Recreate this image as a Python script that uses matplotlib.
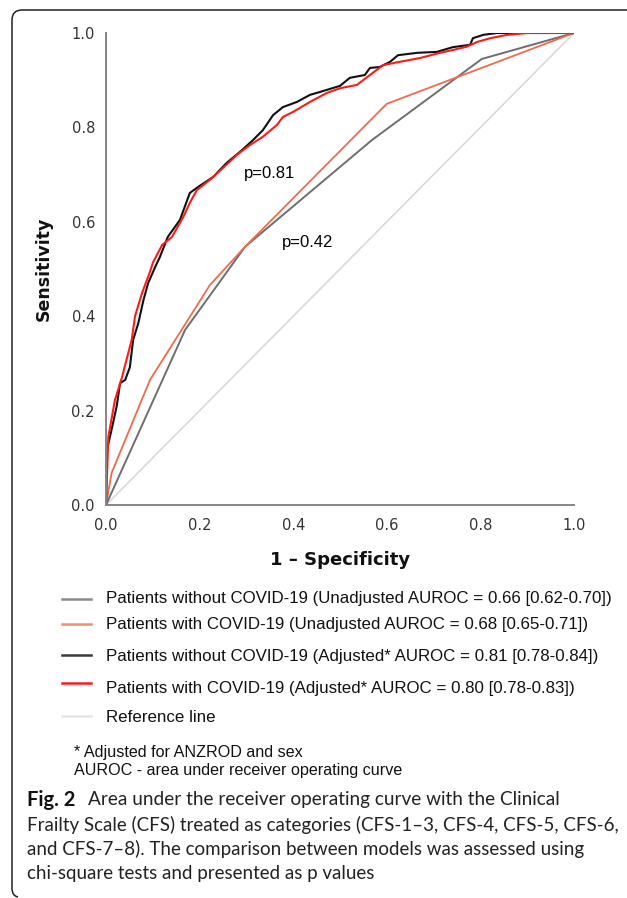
import matplotlib
matplotlib.use("Agg")
import matplotlib.pyplot as plt
from matplotlib.lines import Line2D
from matplotlib.path import Path
from matplotlib.patches import PathPatch

# ROC curves (1 - specificity, sensitivity)
unadj_without_x = [0, 0.169, 0.297, 0.568, 0.803, 1.0]
unadj_without_y = [0, 0.371, 0.547, 0.773, 0.945, 1.0]

unadj_with_x = [0, 0.012, 0.094, 0.222, 0.297, 0.600, 1.0]
unadj_with_y = [0, 0.068, 0.265, 0.466, 0.547, 0.850, 1.0]

adj_without_x = [0, 0.002, 0.012, 0.023, 0.030, 0.041, 0.051, 0.058, 0.069, 0.080,
                 0.090, 0.105, 0.115, 0.132, 0.158, 0.179, 0.197, 0.229, 0.258, 0.286,
                 0.314, 0.335, 0.357, 0.378, 0.408, 0.436, 0.457, 0.5, 0.521, 0.553,
                 0.564, 0.585, 0.607, 0.624, 0.665, 0.707, 0.741, 0.778, 0.784, 0.806,
                 0.835, 1.0]
adj_without_y = [0, 0.117, 0.16, 0.21, 0.258, 0.265, 0.292, 0.35, 0.385, 0.434,
                 0.47, 0.504, 0.525, 0.568, 0.604, 0.661, 0.674, 0.695, 0.725, 0.748,
                 0.773, 0.794, 0.826, 0.843, 0.854, 0.869, 0.875, 0.888, 0.905, 0.911,
                 0.926, 0.928, 0.939, 0.953, 0.958, 0.96, 0.97, 0.975, 0.989, 0.996,
                 1.0, 1.0]

adj_with_x = [0, 0.005, 0.019, 0.034, 0.041, 0.055, 0.062, 0.077, 0.094, 0.10,
              0.12, 0.141, 0.165, 0.179, 0.194, 0.222, 0.25, 0.28, 0.308, 0.335,
              0.365, 0.378, 0.4, 0.436, 0.472, 0.5, 0.536, 0.564, 0.592, 0.628,
              0.671, 0.714, 0.741, 0.771, 0.793, 0.821, 0.857, 0.9, 1.0]
adj_with_y = [0, 0.144, 0.222, 0.27, 0.297, 0.35, 0.40, 0.449, 0.494, 0.513,
              0.551, 0.568, 0.61, 0.64, 0.667, 0.689, 0.714, 0.742, 0.763, 0.78,
              0.805, 0.822, 0.833, 0.854, 0.873, 0.883, 0.89, 0.911, 0.932, 0.939,
              0.947, 0.958, 0.964, 0.971, 0.981, 0.989, 0.996, 1.0, 1.0]

ref_x = [0, 1]
ref_y = [0, 1]

ticks = [0.0, 0.2, 0.4, 0.6, 0.8, 1.0]

legend_labels = [
    "Patients without COVID-19 (Unadjusted AUROC = 0.66 [0.62-0.70])",
    "Patients with COVID-19 (Unadjusted AUROC = 0.68 [0.65-0.71])",
    "Patients without COVID-19 (Adjusted* AUROC = 0.81 [0.78-0.84])",
    "Patients with COVID-19 (Adjusted* AUROC = 0.80 [0.78-0.83])",
    "Reference line",
]
notes = ["* Adjusted for ANZROD and sex", "AUROC - area under receiver operating curve"]
caption_bold = "Fig. 2"
caption_lines = [
    "Area under the receiver operating curve with the Clinical",
    "Frailty Scale (CFS) treated as categories (CFS-1\u20133, CFS-4, CFS-5, CFS-6,",
    "and CFS-7\u20138). The comparison between models was assessed using",
    "chi-square tests and presented as p values",
]

c_unadj_wo = "#6e6e6e"
c_unadj_w = "#f06a4e"
c_adj_wo = "#111111"
c_adj_w = "#ff1a1a"
c_ref = "#d9d9d9"

W, H = 627, 898
fig = plt.figure(figsize=(W / 100, H / 100), dpi=100)


def px(x, y):
    return (x / W, 1 - y / H)


ax = fig.add_axes([106 / W, 1 - 505 / H, 468 / W, 472 / H])
ax.plot(ref_x, ref_y, color=c_ref, lw=1.2)
ax.plot(unadj_without_x, unadj_without_y, color=c_unadj_wo, lw=1.4)
ax.plot(unadj_with_x, unadj_with_y, color=c_unadj_w, lw=1.3)
ax.plot(adj_without_x, adj_without_y, color=c_adj_wo, lw=1.5)
ax.plot(adj_with_x, adj_with_y, color=c_adj_w, lw=1.5)

ax.set_xlim(0, 1)
ax.set_ylim(0, 1)
ax.set_xticks(ticks)
ax.set_yticks(ticks)
ax.set_xticklabels(["%.1f" % t for t in ticks])
ax.set_yticklabels(["%.1f" % t for t in ticks])
ax.tick_params(length=0, labelsize=10.5, labelcolor="#333333")
ax.tick_params(axis="x", pad=9)
ax.tick_params(axis="y", pad=8)
for s in ["top", "right"]:
    ax.spines[s].set_visible(False)
for s in ["left", "bottom"]:
    ax.spines[s].set_color("#858585")
    ax.spines[s].set_linewidth(1.4)

ax.set_xlabel("1 \u2013 Specificity", fontsize=13, fontweight="bold", va="center",
              color="#111111")
ax.set_ylabel("Sensitivity", fontsize=12.5, fontweight="bold", va="center",
              ha="center", color="#111111")
ax.xaxis.set_label_coords(0.5, -0.1165)
ax.yaxis.set_label_coords(-0.134, 0.5)

ax.text(0.350, 0.703, "p=0.81", fontsize=12, family="Liberation Sans",
        ha="center", va="center")
ax.text(0.431, 0.557, "p=0.42", fontsize=12, family="Liberation Sans",
        ha="center", va="center")

# legend drawn by hand to keep the original spacing
leg_colors = ["#8a8a8a", "#f58a72", "#3a3a3a", c_adj_w, "#e6e6e6"]
line_y = [599, 624, 655, 683, 716]
text_y = [599, 625, 656, 688, 717]
for col, ly, ty, lab in zip(leg_colors, line_y, text_y, legend_labels):
    fig.add_artist(Line2D([62 / W, 91 / W], [1 - ly / H, 1 - ly / H],
                          color=col, lw=1.8))
    fig.text(106 / W, 1 - ty / H, lab, fontsize=12.2, family="Liberation Sans",
             ha="left", va="center", color="#111111")

for y, t in zip([752, 770], notes):
    fig.text(74 / W, 1 - y / H, t, fontsize=11.6, family="Liberation Sans",
             ha="left", va="center", color="#111111")

# caption
cap_font = ["Lato", "DejaVu Sans"]
cap_y = [800, 825, 849, 873]
bold = fig.text(27 / W, 1 - cap_y[0] / H, caption_bold, fontsize=14.5,
                family=cap_font, fontweight="bold", ha="left", va="center",
                color="#111111")
fig.canvas.draw()
bb = bold.get_window_extent(fig.canvas.get_renderer())
fig.text((bb.x1 + 13) / W, 1 - cap_y[0] / H, caption_lines[0], fontsize=13.7,
         family=cap_font, ha="left", va="center", color="#222222")
for y, t in zip(cap_y[1:], caption_lines[1:]):
    fig.text(27 / W, 1 - y / H, t, fontsize=13.5, family=cap_font,
             ha="left", va="center", color="#222222")

# frame: top and left edges with rounded corners
r = 10
verts = [px(W, 10), px(12 + r, 10), px(12, 10), px(12, 10 + r),
         px(12, 896 - 8), px(12, 896), px(18, 897)]
codes = [Path.MOVETO, Path.LINETO, Path.CURVE3, Path.CURVE3,
         Path.LINETO, Path.CURVE3, Path.CURVE3]
fig.add_artist(PathPatch(Path(verts, codes), transform=fig.transFigure,
                         fill=False, edgecolor="#222222", lw=1.1))

fig.savefig("out.png", dpi=100)
